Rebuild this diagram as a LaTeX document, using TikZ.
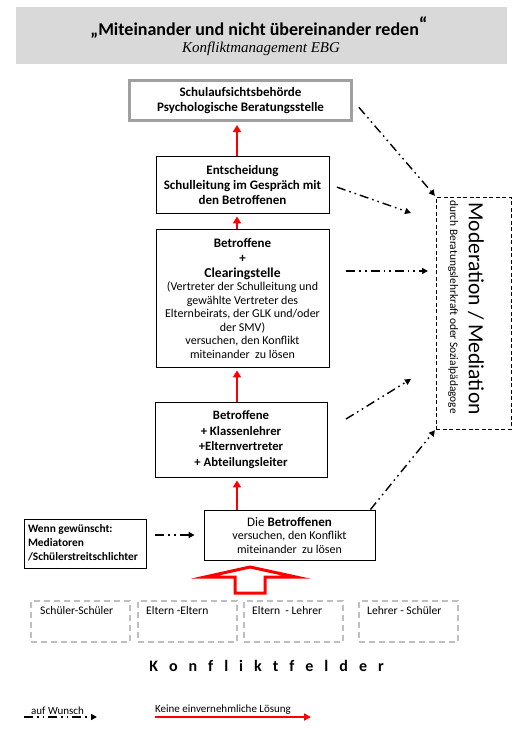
\documentclass[tikz,border=0pt]{standalone}
\usepackage{fontspec}
\setmainfont{Carlito}
\newfontfamily\titleserif{Liberation Serif}
\usetikzlibrary{arrows.meta}
\definecolor{bandgray}{HTML}{D9D9D9}
\definecolor{boxgray}{HTML}{A0A0A0}
\definecolor{fieldgray}{HTML}{BFBFBF}
\definecolor{pured}{HTML}{FF0000}
\begin{document}
\begin{tikzpicture}[x=1pt,y=-1pt,
  box/.style={draw=black, line width=0.8pt, inner sep=0pt, align=center,
    font=\fontsize{13}{15}\selectfont\bfseries},
  redarrow/.style={draw=pured, line width=2.6pt, shorten >=3pt,
    -{Triangle[length=7pt,width=8pt]}},
  dda/.style={line width=1.4pt,
    dash pattern=on 9pt off 4pt on 1.6pt off 4pt on 1.6pt off 4pt,
    -{Triangle[length=6pt,width=6pt]}},
  fieldbox/.style={draw=fieldgray, line width=1.5pt, dash pattern=on 6pt off 4pt,
    minimum width=99pt, minimum height=41pt, inner sep=0pt},
  fieldtext/.style={anchor=north west, inner sep=0pt, font=\fontsize{11.6}{13}\selectfont},
  legendtext/.style={inner sep=0pt, font=\fontsize{11}{13}\selectfont}
]
\useasboundingbox (0,0) rectangle (527,734);

% title band
\node[fill=bandgray, minimum width=491pt, minimum height=57pt, inner sep=0pt] (band) at (261.5,35.5) {};
\node[inner sep=0pt, anchor=base, font=\fontsize{18}{20}\selectfont\bfseries] (title) at (259,35)
  {„Miteinander und nicht übereinander reden\raisebox{4pt}{\fontsize{20}{20}\selectfont“}};
\node[inner sep=0pt, anchor=base, font=\fontsize{15}{17}\selectfont\titleserif\itshape] (subtitle) at (261,52)
  {Konfliktmanagement EBG};

% boxes
\node[box, draw=boxgray, line width=3pt, minimum width=222pt, minimum height=40pt] (b1) at (240.5,100.5)
  {Schulaufsichtsbehörde\\Psychologische Beratungsstelle};
\node[box, minimum width=173pt, minimum height=57pt] (b2) at (242.5,184.5)
  {Entscheidung\\Schulleitung im Gespräch mit\\den Betroffenen};
\node[box, minimum width=173pt, minimum height=138pt, font=\fontsize{12}{13.5}\selectfont] (b3) at (242.5,298)
  {{\bfseries\fontsize{13}{13.5}\selectfont Betroffene}\\[1.5pt]
   {\bfseries\fontsize{13}{13.5}\selectfont +}\\[1.5pt]
   {\bfseries\fontsize{13.6}{13.5}\selectfont Clearingstelle}\\
   (Vertreter der Schulleitung und\\
   gewählte Vertreter des\\
   Elternbeirats, der GLK und/oder\\
   der SMV)\\
   versuchen, den Konflikt\\
   miteinander\ \ zu lösen};
\node[box, minimum width=172pt, minimum height=75pt, font=\fontsize{12.7}{15.7}\selectfont\bfseries] (b4) at (241,439.5)
  {Betroffene\\+ Klassenlehrer\\+Elternvertreter\\+ Abteilungsleiter};
\node[box, minimum width=171pt, minimum height=50pt, font=\fontsize{12}{13.5}\selectfont] (b5) at (289.5,535)
  {{\fontsize{13}{13.5}\selectfont Die \textbf{Betroffenen}}\\
   versuchen, den Konflikt\\
   miteinander\ \ zu lösen};
\node[box, minimum width=122pt, minimum height=49pt, align=left, font=\fontsize{11.4}{14}\selectfont\bfseries] (b6) at (85,543.5)
  {\hspace*{-4pt}\begin{tabular}{@{}l@{}}Wenn gewünscht:\\Mediatoren\\/Schülerstreitschlichter\end{tabular}};

% moderation box
\node[draw=black, line width=0.8pt, dash pattern=on 4pt off 2.5pt, minimum width=75pt, minimum height=232pt, inner sep=0pt] (mod) at (473.5,313) {};
\node[rotate=-90, inner sep=0pt, font=\fontsize{21.6}{24}\selectfont] (modtitle) at (476,308.5) {Moderation / Mediation};
\node[rotate=-90, anchor=west, inner sep=0pt, font=\fontsize{11.4}{13}\selectfont] (modsub) at (453,200)
  {durch Beratungslehrkraft oder Sozialpädagoge};

% red arrows
\coordinate (ax) at (237,0);
\draw[redarrow] (ax |- b2.north) -- (ax |- b1.south);
\draw[redarrow] (ax |- b3.north) -- (ax |- b2.south);
\draw[redarrow] (ax |- b4.north) -- (ax |- b3.south);
\draw[redarrow] (ax |- b5.north) -- (ax |- b4.south);

% dash-dot arrows to moderation
\coordinate (e2) at (411,213);
\coordinate (e3) at (428,271);
\coordinate (s4) at (346,419);
\coordinate (e4) at (411,379);
\draw[dda, shorten <=9pt, shorten >=1pt] (b1.east) -- (mod.north west);
\draw[dda, shorten <=8pt] (b2.east) -- (e2);
\draw[dda, shorten <=17pt] (b3.east |- e3) -- (e3);
\draw[dda] (s4) -- (e4);
\draw[dda, shorten >=1pt] ([xshift=-5pt]b5.north east) -- (mod.south west);
\draw[dda, shorten <=9pt, shorten >=9pt] (b6.east |- b5.west) -- (b5.west);

% big hollow arrow
\draw[draw=pured, fill=white, line width=3pt, line join=miter]
  (250,567) -- (296,577) -- (265,577) -- (265,593) -- (235,593) -- (235,577) -- (205,577) -- cycle;

% conflict fields
\node[fieldbox] (f1) at (80.5,621.5) {};
\node[fieldbox] (f2) at (187.5,621.5) {};
\node[fieldbox] (f3) at (293.5,621.5) {};
\node[fieldbox] (f4) at (408.5,621.5) {};
\node[fieldtext] (t1) at (40,606) {Schüler-Schüler};
\node[fieldtext] (t2) at (146,606) {Eltern -Eltern};
\node[fieldtext] (t3) at (252,606) {Eltern\ \ - Lehrer};
\node[fieldtext] (t4) at (367,606) {Lehrer - Schüler};

\node[inner sep=0pt, font=\fontsize{16}{18}\selectfont\bfseries] (kf) at (266.5,666)
  {\spaceskip=11pt\relax K o n f l i k t f e l d e r};

% legend
\coordinate (la) at (24,717);
\coordinate (lb) at (97,717);
\draw[dda] (la) -- (lb);
\node[legendtext, anchor=south west] (lt1) at (31,715) {auf Wunsch};
\coordinate (lc) at (155,717);
\coordinate (ld) at (311,717);
\draw[draw=pured, line width=2.4pt, -{Triangle[length=7pt,width=7pt]}] (lc) -- (ld);
\node[legendtext, anchor=south west] (lt2) at (155,715) {Keine einvernehmliche Lösung};
\end{tikzpicture}
\end{document}
